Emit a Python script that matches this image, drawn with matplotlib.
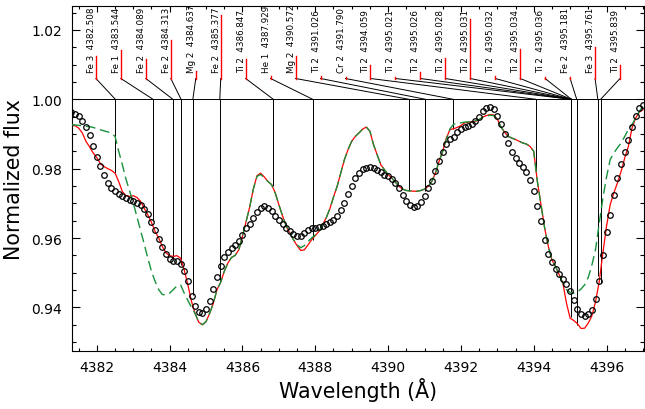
import numpy as np
import matplotlib
matplotlib.use('Agg')
import matplotlib.pyplot as plt
from matplotlib.ticker import MultipleLocator, FormatStrFormatter

# wavelength sampling (0.1 A) shared by the observed spectrum and both models
wave = np.round(np.arange(4381.3, 4397.05, 0.1), 1)

obs = [0.9962, 0.9957, 0.9951, 0.9936, 0.9920, 0.9897, 0.9866, 0.9834, 0.9808, 0.9781,
       0.9758, 0.9745, 0.9736, 0.9728, 0.9721, 0.9716, 0.9711, 0.9706, 0.9701, 0.9694,
       0.9683, 0.9669, 0.9645, 0.9622, 0.9598, 0.9574, 0.9553, 0.9540, 0.9535, 0.9533,
       0.9524, 0.9505, 0.9475, 0.9432, 0.9403, 0.9388, 0.9384, 0.9395, 0.9418, 0.9452,
       0.9487, 0.9518, 0.9544, 0.9560, 0.9570, 0.9581, 0.9591, 0.9609, 0.9628, 0.9640,
       0.9658, 0.9675, 0.9687, 0.9691, 0.9687, 0.9677, 0.9664, 0.9651, 0.9640, 0.9630,
       0.9620, 0.9612, 0.9606, 0.9606, 0.9614, 0.9623, 0.9628, 0.9630, 0.9633, 0.9635,
       0.9639, 0.9645, 0.9653, 0.9663, 0.9682, 0.9702, 0.9727, 0.9751, 0.9773, 0.9788,
       0.9798, 0.9803, 0.9805, 0.9801, 0.9796, 0.9789, 0.9783, 0.9779, 0.9770, 0.9759,
       0.9743, 0.9725, 0.9708, 0.9696, 0.9690, 0.9693, 0.9703, 0.9722, 0.9743, 0.9764,
       0.9792, 0.9823, 0.9848, 0.9870, 0.9886, 0.9892, 0.9905, 0.9914, 0.9920, 0.9924,
       0.9929, 0.9937, 0.9948, 0.9965, 0.9975, 0.9977, 0.9972, 0.9953, 0.9929, 0.9901,
       0.9873, 0.9849, 0.9830, 0.9816, 0.9804, 0.9790, 0.9768, 0.9735, 0.9692, 0.9648,
       0.9595, 0.9553, 0.9530, 0.9512, 0.9497, 0.9483, 0.9468, 0.9446, 0.9420, 0.9395,
       0.9382, 0.9375, 0.9380, 0.9392, 0.9423, 0.9475, 0.9550, 0.9617, 0.9667, 0.9725,
       0.9772, 0.9813, 0.9848, 0.9884, 0.9919, 0.9951, 0.9975, 0.9984]

model_red = [0.9924, 0.9924, 0.9917, 0.9903, 0.9879, 0.9863, 0.9845, 0.9832, 0.9814, 0.9806,
             0.9800, 0.9795, 0.9787, 0.9763, 0.9734, 0.9722, 0.9720, 0.9722, 0.9717, 0.9706,
             0.9686, 0.9667, 0.9645, 0.9619, 0.9600, 0.9575, 0.9557, 0.9549, 0.9547, 0.9549,
             0.9542, 0.9508, 0.9465, 0.9417, 0.9382, 0.9357, 0.9350, 0.9359, 0.9383, 0.9412,
             0.9451, 0.9472, 0.9504, 0.9528, 0.9544, 0.9550, 0.9566, 0.9605, 0.9648, 0.9690,
             0.9742, 0.9780, 0.9787, 0.9776, 0.9763, 0.9754, 0.9730, 0.9696, 0.9664, 0.9635,
             0.9614, 0.9595, 0.9578, 0.9564, 0.9566, 0.9580, 0.9595, 0.9607, 0.9619, 0.9638,
             0.9658, 0.9684, 0.9718, 0.9749, 0.9787, 0.9826, 0.9855, 0.9879, 0.9893, 0.9903,
             0.9914, 0.9920, 0.9908, 0.9869, 0.9840, 0.9811, 0.9797, 0.9783, 0.9773, 0.9761,
             0.9749, 0.9741, 0.9737, 0.9736, 0.9735, 0.9735, 0.9737, 0.9741, 0.9749, 0.9763,
             0.9787, 0.9821, 0.9850, 0.9888, 0.9913, 0.9915, 0.9919, 0.9924, 0.9932, 0.9934,
             0.9935, 0.9937, 0.9941, 0.9949, 0.9953, 0.9956, 0.9955, 0.9943, 0.9920, 0.9905,
             0.9893, 0.9888, 0.9884, 0.9879, 0.9874, 0.9871, 0.9864, 0.9850, 0.9763, 0.9696,
             0.9629, 0.9576, 0.9537, 0.9518, 0.9494, 0.9470, 0.9412, 0.9369, 0.9362, 0.9353,
             0.9339, 0.9340, 0.9355, 0.9376, 0.9417, 0.9475, 0.9557, 0.9634, 0.9696, 0.9730,
             0.9759, 0.9792, 0.9831, 0.9864, 0.9917, 0.9946, 0.9963, 0.9970]

model_green = [0.9927, 0.9926, 0.9925, 0.9924, 0.9922, 0.9921, 0.9919, 0.9915, 0.9912, 0.9909,
               0.9906, 0.9902, 0.9893, 0.9850, 0.9812, 0.9770, 0.9735, 0.9701, 0.9662, 0.9624,
               0.9583, 0.9542, 0.9504, 0.9475, 0.9451, 0.9437, 0.9436, 0.9441, 0.9451, 0.9462,
               0.9465, 0.9441, 0.9420, 0.9400, 0.9382, 0.9357, 0.9350, 0.9359, 0.9383, 0.9412,
               0.9451, 0.9472, 0.9504, 0.9528, 0.9544, 0.9550, 0.9566, 0.9605, 0.9648, 0.9690,
               0.9742, 0.9778, 0.9783, 0.9774, 0.9763, 0.9754, 0.9730, 0.9696, 0.9664, 0.9635,
               0.9614, 0.9595, 0.9580, 0.9572, 0.9578, 0.9590, 0.9600, 0.9609, 0.9619, 0.9638,
               0.9658, 0.9684, 0.9718, 0.9749, 0.9787, 0.9826, 0.9855, 0.9879, 0.9893, 0.9903,
               0.9914, 0.9920, 0.9908, 0.9869, 0.9840, 0.9811, 0.9797, 0.9783, 0.9773, 0.9761,
               0.9749, 0.9741, 0.9737, 0.9736, 0.9735, 0.9735, 0.9737, 0.9741, 0.9749, 0.9763,
               0.9787, 0.9821, 0.9850, 0.9884, 0.9915, 0.9928, 0.9931, 0.9932, 0.9934, 0.9935,
               0.9936, 0.9938, 0.9942, 0.9948, 0.9952, 0.9954, 0.9953, 0.9943, 0.9920, 0.9905,
               0.9893, 0.9888, 0.9884, 0.9879, 0.9874, 0.9871, 0.9864, 0.9850, 0.9763, 0.9696,
               0.9629, 0.9576, 0.9537, 0.9518, 0.9494, 0.9470, 0.9451, 0.9443, 0.9441, 0.9444,
               0.9453, 0.9465, 0.9487, 0.9523, 0.9568, 0.9643, 0.9715, 0.9776, 0.9826, 0.9845,
               0.9860, 0.9874, 0.9893, 0.9913, 0.9927, 0.9946, 0.9965, 0.9980]

# line identifications
ions = ['Fe 3', 'Fe 1', 'Fe 2', 'Fe 2', 'Mg 2', 'Fe 2', 'Ti 2', 'He 1', 'Mg 2', 'Ti 2', 'Cr 2',
        'Ti 2', 'Ti 2', 'Ti 2', 'Ti 2', 'Ti 2', 'Ti 2', 'Ti 2', 'Ti 2', 'Fe 2', 'Fe 3', 'Ti 2']
line_wl = [4382.508, 4383.544, 4384.089, 4384.313, 4384.637, 4385.377, 4386.847, 4387.929,
           4390.572, 4391.026, 4391.790, 4394.059, 4395.021, 4395.026, 4395.028, 4395.031,
           4395.032, 4395.034, 4395.036, 4395.181, 4395.761, 4395.839]
line_depth = [0.9788, 0.9648, 0.9542, 0.9523, 0.9436, 0.9470, 0.9749, 0.9593, 0.9735, 0.9735,
              0.9915, 0.9797, 0.9900, 0.9750, 0.9600, 0.9371, 0.9900, 0.9550, 0.9900, 0.9350,
              0.9489, 0.9470]
line_mark = [1.0126, 1.0143, 1.0117, 1.0172, 1.0083, 1.0244, 1.0115, 1.0066, 1.0126, 1.0066,
             1.0063, 1.0099, 1.0063, 1.0078, 1.0118, 1.0233, 1.0068, 1.0145, 1.0063, 1.0063,
             1.0150, 1.0098]

plt.rcParams['font.family'] = 'DejaVu Sans'
fig = plt.figure(figsize=(6.45, 4.10), dpi=100)
ax = fig.add_axes([0.1112, 0.1422, 0.8873, 0.8415])

ax.plot(wave, model_red, color='red', lw=0.9, zorder=2)
ax.plot(wave, model_green, color='#17913a', lw=1.0, dashes=(7, 3.5), zorder=3)
ax.plot(wave, obs, 'o', mfc='none', mec='black', ms=4.0, mew=0.9, zorder=4)

# line markers
base, knee = 1.0, 1.006
lab_x = np.linspace(4381.975, 4396.371, len(line_wl))
ax.axhline(base, color='black', lw=0.7, zorder=1)
ax.vlines(line_wl, line_depth, base, color='black', lw=0.7, zorder=1)
for w, lx, top, ion in zip(line_wl, lab_x, line_mark, ions):
    ax.plot([w, lx], [base, knee], color='black', lw=0.7, zorder=1)
    ax.plot([lx, lx], [knee, top], color='red', lw=1.0, zorder=1)
    ax.text(lx, 1.0078, '%s  %.3f' % (ion, w), rotation=90, ha='right', va='bottom',
            fontsize=6.3, clip_on=False)

ax.set_xlim(4381.31, 4397.03)
ax.set_ylim(0.9275, 1.027)
ax.xaxis.set_major_locator(MultipleLocator(2))
ax.xaxis.set_minor_locator(MultipleLocator(0.5))
ax.yaxis.set_major_locator(MultipleLocator(0.02))
ax.yaxis.set_minor_locator(MultipleLocator(0.005))
ax.yaxis.set_major_formatter(FormatStrFormatter('%.2f'))
ax.tick_params(axis='both', which='both', direction='in', top=True, right=True,
               labelsize=10, width=0.8)
ax.tick_params(axis='x', which='major', length=4.5, pad=7)
ax.tick_params(axis='x', which='minor', length=2)
ax.tick_params(axis='y', which='major', length=5.5, pad=7)
ax.tick_params(axis='y', which='minor', length=3)
for s in ax.spines.values():
    s.set_linewidth(0.8)

ax.set_xlabel('Wavelength (Å)', fontsize=14.8, labelpad=2)
ax.set_ylabel('Normalized flux', fontsize=14.8, labelpad=5)

fig.savefig('out.png', dpi=100)
